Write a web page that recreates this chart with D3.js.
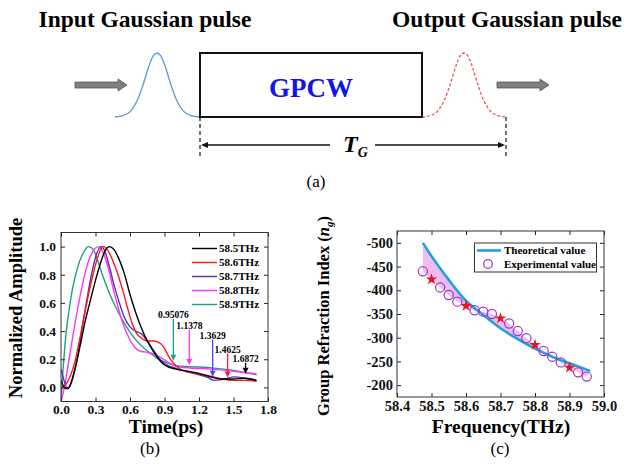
<!DOCTYPE html>
<html><head><meta charset="utf-8">
<script src="https://cdn.jsdelivr.net/npm/d3@7"></script>
<style>body{margin:0;background:#fff}svg{display:block}text{font-family:"Liberation Serif","Times New Roman",serif}</style>
</head><body><svg id="c" width="633" height="466"></svg>
<script>
// ---------- data ----------
// (a) schematic pulse shape: offset (px from peak) and relative height
const pulseDx = [-42,-34,-26,-20,-14,-8,-4,0,4,8,14,20,26,34,42];
const pulseH  = [0,0.02,0.1,0.25,0.5,0.8,0.95,1,0.95,0.8,0.5,0.25,0.1,0.02,0];

// (b) normalized amplitude vs time (ps)
const seriesNames = ["58.5THz","58.6THz","58.7THz","58.8THz","58.9THz"];
const pulse585 = [[0,0.05],[0.03,0.0],[0.06,-0.01],[0.09,0.04],[0.13,0.16],[0.17,0.31],[0.21,0.47],[0.25,0.6],[0.3,0.76],[0.35,0.9],[0.39,0.98],[0.42,1.0],[0.46,0.98],[0.5,0.92],[0.55,0.81],[0.6,0.66],[0.65,0.53],[0.7,0.42],[0.75,0.33],[0.8,0.26],[0.85,0.2],[0.9,0.16],[1.0,0.13],[1.1,0.115],[1.2,0.1],[1.3,0.075],[1.4,0.06],[1.5,0.06],[1.6,0.065],[1.7,0.05]];
const pulse586 = [[0,0.0],[0.04,0.02],[0.08,0.08],[0.12,0.18],[0.16,0.33],[0.2,0.5],[0.25,0.7],[0.3,0.87],[0.34,0.97],[0.37,1.0],[0.41,0.97],[0.46,0.88],[0.5,0.79],[0.54,0.68],[0.58,0.56],[0.62,0.45],[0.66,0.38],[0.7,0.35],[0.75,0.33],[0.8,0.33],[0.85,0.32],[0.89,0.29],[0.93,0.23],[0.97,0.18],[1.02,0.14],[1.1,0.11],[1.2,0.095],[1.3,0.08],[1.4,0.06],[1.5,0.05],[1.6,0.05],[1.7,0.045]];
const pulse587 = [[0,0.13],[0.03,0.04],[0.05,0.0],[0.07,0.0],[0.1,0.06],[0.14,0.2],[0.18,0.4],[0.22,0.6],[0.27,0.82],[0.31,0.95],[0.35,1.0],[0.38,0.97],[0.42,0.86],[0.46,0.73],[0.5,0.62],[0.55,0.5],[0.6,0.43],[0.65,0.4],[0.7,0.38],[0.75,0.33],[0.8,0.27],[0.85,0.21],[0.9,0.17],[1.0,0.135],[1.1,0.11],[1.2,0.09],[1.28,0.07],[1.33,0.05],[1.4,0.055],[1.5,0.075],[1.6,0.065],[1.7,0.045]];
const pulse588 = [[0,-0.1],[0.03,0.0],[0.06,0.15],[0.1,0.35],[0.15,0.58],[0.2,0.78],[0.25,0.92],[0.3,0.99],[0.33,1.0],[0.37,0.95],[0.42,0.82],[0.46,0.68],[0.5,0.56],[0.54,0.45],[0.58,0.37],[0.62,0.31],[0.66,0.27],[0.7,0.255],[0.75,0.25],[0.8,0.24],[0.85,0.22],[0.9,0.195],[0.95,0.17],[1.0,0.15],[1.1,0.14],[1.3,0.13],[1.5,0.115],[1.7,0.095]];
const pulse589 = [[0,-0.1],[0.02,0.15],[0.04,0.35],[0.07,0.55],[0.1,0.7],[0.14,0.84],[0.19,0.95],[0.24,1.0],[0.28,0.98],[0.32,0.9],[0.36,0.8],[0.41,0.69],[0.47,0.58],[0.52,0.5],[0.57,0.43],[0.62,0.37],[0.67,0.32],[0.72,0.28],[0.78,0.24],[0.85,0.2],[0.92,0.175],[0.97,0.16],[1.05,0.15],[1.2,0.145],[1.35,0.135],[1.5,0.12],[1.6,0.105],[1.7,0.09]];
const timeTicks = [0,0.3,0.6,0.9,1.2,1.5,1.8];
const ampTicks = [0,0.2,0.4,0.6,0.8,1.0];
// (b) delay annotations
const delayLabels = ["0.95076","1.1378","1.3629","1.4625","1.6872"];
const delayT      = [0.977,1.116,1.319,1.449,1.605];
const delayTop    = [0.487,0.41,0.34,0.24,0.175];
const delayTip    = [0.19,0.16,0.076,0.07,0.097];

// (c) group refraction index vs frequency
const theoryFreq = [58.475,58.5,58.55,58.6,58.65,58.7,58.75,58.8,58.85,58.9,58.96];
const theoryNg   = [-500,-472,-422,-378,-348,-320,-297,-277,-260,-246,-230];
const expFreq    = [58.475,58.525,58.55,58.575,58.625,58.65,58.675,58.725,58.75,58.775,58.825,58.85,58.875,58.925,58.95];
const expNg      = [-440,-406,-390,-376,-358,-355,-350,-330,-314,-299,-272,-260,-248,-227,-218];
const starFreq   = [58.5,58.6,58.7,58.8,58.9];
const starNg     = [-423,-367,-341,-285,-237];
const freqTicks  = [58.4,58.5,58.6,58.7,58.8,58.9,59.0];
const ngTicks    = [-500,-450,-400,-350,-300,-250,-200];
const legendC    = ["Theoretical value","Experimental value"];

// ---------- drawing ----------
const svg = d3.select("#c");
svg.append("rect").attr("width",633).attr("height",466).attr("fill","#fff");
const serif = '"Liberation Serif","Times New Roman",serif';

// ===== (a) =====
const A = svg.append("g");
A.append("text").attr("x",145).attr("y",27).attr("text-anchor","middle")
  .attr("font-size",23.5).attr("font-weight","bold").text("Input Gaussian pulse");
A.append("text").attr("x",507).attr("y",27).attr("text-anchor","middle")
  .attr("font-size",23.5).attr("font-weight","bold").text("Output Gaussian pulse");

function blockArrow(x0){
  const p = d3.path();
  p.moveTo(x0,82); p.lineTo(x0+43,82); p.lineTo(x0+43,79); p.lineTo(x0+52,85);
  p.lineTo(x0+43,91); p.lineTo(x0+43,88); p.lineTo(x0,88); p.closePath();
  A.append("path").attr("d",p.toString()).attr("fill","#7f7f7f").attr("stroke","#555").attr("stroke-width",0.8);
}
blockArrow(75); blockArrow(497);

const pulseShape = pulseDx.map((d,i)=>[d,pulseH[i]]);
function pulse(cx, color, dash){
  const px = d3.scaleLinear().domain([-42,42]).range([cx-42,cx+42]);
  const py = d3.scaleLinear().domain([0,1]).range([117,53]);
  const ln = d3.line().x(d=>px(d[0])).y(d=>py(d[1])).curve(d3.curveMonotoneX);
  A.append("path").attr("d",ln(pulseShape)).attr("fill","none").attr("stroke",color)
    .attr("stroke-width",1.3).attr("stroke-dasharray",dash||null);
}
pulse(157,"#5b9bd5");
pulse(464,"#e05a5a","3,2");

A.append("rect").attr("x",200).attr("y",53).attr("width",222).attr("height",64)
  .attr("fill","none").attr("stroke","#111").attr("stroke-width",2);
A.append("text").attr("x",311).attr("y",97).attr("text-anchor","middle")
  .attr("font-size",27).attr("font-weight","bold").attr("fill","#1414e6").text("GPCW");

[200,506].forEach(x=>A.append("line").attr("x1",x).attr("x2",x).attr("y1",117).attr("y2",157)
  .attr("stroke","#111").attr("stroke-width",1.2).attr("stroke-dasharray","4,3"));
A.append("line").attr("x1",203).attr("x2",330).attr("y1",145).attr("y2",145).attr("stroke","#111").attr("stroke-width",1.4);
A.append("line").attr("x1",375).attr("x2",503).attr("y1",145).attr("y2",145).attr("stroke","#111").attr("stroke-width",1.4);
A.append("path").attr("d","M201,145 L208,142 L208,148 Z").attr("fill","#111");
A.append("path").attr("d","M505,145 L498,142 L498,148 Z").attr("fill","#111");
const tg = A.append("text").attr("x",343).attr("y",152).attr("font-weight","bold").attr("font-style","italic");
tg.append("tspan").attr("font-size",24).text("T");
tg.append("tspan").attr("font-size",14).attr("dy",5).text("G");
A.append("text").attr("x",316).attr("y",187).attr("text-anchor","middle").attr("font-size",17).text("(a)");

// ===== (b) =====
const B = svg.append("g");
const bx = d3.scaleLinear().domain([0,1.8]).range([61,268]);
const by = d3.scaleLinear().domain([-0.1,1.1]).range([401.5,232.5]);
const colorsB = ["#000000","#ff1a1a","#5530b8","#ff33ff","#1f9e8a"];
const seriesB = [pulse585,pulse586,pulse587,pulse588,pulse589];
B.append("clipPath").attr("id","clipB").append("rect").attr("x",61).attr("y",232.5).attr("width",207).attr("height",169);
const lineB = d3.line().x(d=>bx(d[0])).y(d=>by(d[1])).curve(d3.curveMonotoneX);
const curvesB = B.append("g").attr("clip-path","url(#clipB)");
[4,3,2,1,0].forEach(i=>curvesB.append("path").attr("d",lineB(seriesB[i])).attr("fill","none")
  .attr("stroke",colorsB[i]).attr("stroke-width",1.4));

function styleAxis(g,fs){
  g.select(".domain").remove();
  g.selectAll(".tick line").attr("stroke","#222");
  g.selectAll(".tick text").attr("font-family",serif).attr("font-weight","bold").attr("font-size",fs).attr("fill","#111");
}
B.append("g").attr("transform","translate(0,401.5)")
  .call(d3.axisBottom(bx).tickValues(timeTicks).tickFormat(d3.format(".1f")).tickSizeInner(-4).tickPadding(2.5))
  .call(g=>styleAxis(g,13.5));
B.append("g").attr("transform","translate(0,232.5)")
  .call(d3.axisTop(bx).tickValues(timeTicks).tickFormat("").tickSizeInner(-4)).call(g=>styleAxis(g,12));
B.append("g").attr("transform","translate(61,0)")
  .call(d3.axisLeft(by).tickValues(ampTicks).tickFormat(d3.format(".1f")).tickSizeInner(-4).tickPadding(5))
  .call(g=>styleAxis(g,13.5));
B.append("g").attr("transform","translate(268,0)")
  .call(d3.axisRight(by).tickValues(ampTicks).tickFormat("").tickSizeInner(-4)).call(g=>styleAxis(g,12));
B.append("rect").attr("x",61).attr("y",232.5).attr("width",207).attr("height",169)
  .attr("fill","none").attr("stroke","#333").attr("stroke-width",1);

// legend (b)
seriesNames.forEach((n,i)=>{
  const y = 248.5 + i*14;
  B.append("line").attr("x1",192).attr("x2",217).attr("y1",y).attr("y2",y).attr("stroke",colorsB[i]).attr("stroke-width",1.4);
  B.append("text").attr("x",219).attr("y",y+3.8).attr("font-size",11).attr("font-weight","bold").text(n);
});
// delay arrows (b)
const arrowColors = ["#1f9e8a","#ff33ff","#4a4af0","#ff2020","#000000"];
delayLabels.forEach((lab,i)=>{
  const x = bx(delayT[i]), y0 = by(delayTop[i]), y1 = by(delayTip[i]);
  B.append("line").attr("x1",x).attr("x2",x).attr("y1",y0).attr("y2",y1-5).attr("stroke",arrowColors[i]).attr("stroke-width",1.3);
  B.append("path").attr("d",`M${x-3},${y1-6} L${x+3},${y1-6} L${x},${y1} Z`).attr("fill",arrowColors[i]);
  B.append("text").attr("x",x).attr("y",y0-1).attr("text-anchor","middle").attr("font-size",9.5).attr("font-weight","bold").text(lab);
});
B.append("text").attr("transform","translate(22,308) rotate(-90)").attr("text-anchor","middle")
  .attr("font-size",18.5).attr("font-weight","bold").text("Normalized Amplitude");
B.append("text").attr("x",166).attr("y",433).attr("text-anchor","middle")
  .attr("font-size",19.5).attr("font-weight","bold").text("Time(ps)");
B.append("text").attr("x",150).attr("y",454).attr("text-anchor","middle").attr("font-size",17).text("(b)");

// ===== (c) =====
const C = svg.append("g");
const cx = d3.scaleLinear().domain([58.4,59.0]).range([397,604]);
const cy = d3.scaleLinear().domain([-175,-525]).range([397,231]);
const expAll = expFreq.map((f,i)=>[f,expNg[i]]).concat(starFreq.map((f,i)=>[f,starNg[i]])).sort((a,b)=>a[0]-b[0]);
const theory = theoryFreq.map((f,i)=>[f,theoryNg[i]]);
const lineC = d3.line().x(d=>cx(d[0])).y(d=>cy(d[1]));
C.append("path").attr("d", lineC(expAll.concat(theory.slice().reverse()))+"Z")
  .attr("fill","#e9a6ea").attr("fill-opacity",0.75).attr("stroke","none");
C.append("path").attr("d",d3.line().x(d=>cx(d[0])).y(d=>cy(d[1])).curve(d3.curveMonotoneX)(theory))
  .attr("fill","none").attr("stroke","#1ea1dc").attr("stroke-width",2.6);
C.selectAll("circle.exp").data(expFreq).join("circle").attr("class","exp")
  .attr("cx",(d)=>cx(d)).attr("cy",(d,i)=>cy(expNg[i])).attr("r",4.6)
  .attr("fill","none").attr("stroke","#9b35c8").attr("stroke-width",1.2);
const star = d3.symbol().type(d3.symbolStar).size(42);
starFreq.forEach((f,i)=>C.append("path").attr("d",star()).attr("transform",`translate(${cx(f)},${cy(starNg[i])})`).attr("fill","#e8141e"));

C.append("g").attr("transform","translate(0,397)")
  .call(d3.axisBottom(cx).tickValues(freqTicks).tickFormat(d3.format(".1f")).tickSizeInner(-4).tickPadding(3.5))
  .call(g=>styleAxis(g,14.5));
C.append("g").attr("transform","translate(0,231)")
  .call(d3.axisTop(cx).tickValues(freqTicks).tickFormat("").tickSizeInner(-4)).call(g=>styleAxis(g,12));
C.append("g").attr("transform","translate(397,0)")
  .call(d3.axisLeft(cy).tickValues(ngTicks).tickFormat(d=>String(d)).tickSizeInner(-4).tickPadding(4))
  .call(g=>styleAxis(g,14.5));
C.append("g").attr("transform","translate(604,0)")
  .call(d3.axisRight(cy).tickValues(ngTicks).tickFormat("").tickSizeInner(-4)).call(g=>styleAxis(g,12));
C.append("rect").attr("x",397).attr("y",231).attr("width",207).attr("height",166)
  .attr("fill","none").attr("stroke","#333").attr("stroke-width",1);

// legend (c)
C.append("rect").attr("x",474.5).attr("y",243).attr("width",122).attr("height",29)
  .attr("fill","#fff").attr("stroke","#333").attr("stroke-width",1);
C.append("line").attr("x1",477).attr("x2",501).attr("y1",250.5).attr("y2",250.5).attr("stroke","#1ea1dc").attr("stroke-width",2.6);
C.append("circle").attr("cx",488).attr("cy",264).attr("r",4.3).attr("fill","none").attr("stroke","#9b35c8").attr("stroke-width",1.2);
legendC.forEach((t,i)=>C.append("text").attr("x",504).attr("y",254.3+i*13.5).attr("font-size",11).attr("font-weight","bold").text(t));

const yl = C.append("text").attr("transform","translate(329,316) rotate(-90)").attr("text-anchor","middle")
  .attr("font-size",16.5).attr("font-weight","bold");
yl.append("tspan").text("Group Refraction Index (");
yl.append("tspan").attr("font-style","italic").text("n");
yl.append("tspan").attr("font-style","italic").attr("font-size",11).attr("dy",4).text("g");
yl.append("tspan").attr("dy",-4).text(")");
C.append("text").attr("x",501).attr("y",433).attr("text-anchor","middle")
  .attr("font-size",19.5).attr("font-weight","bold").text("Frequency(THz)");
C.append("text").attr("x",500).attr("y",454).attr("text-anchor","middle").attr("font-size",17).text("(c)");
</script></body></html>
